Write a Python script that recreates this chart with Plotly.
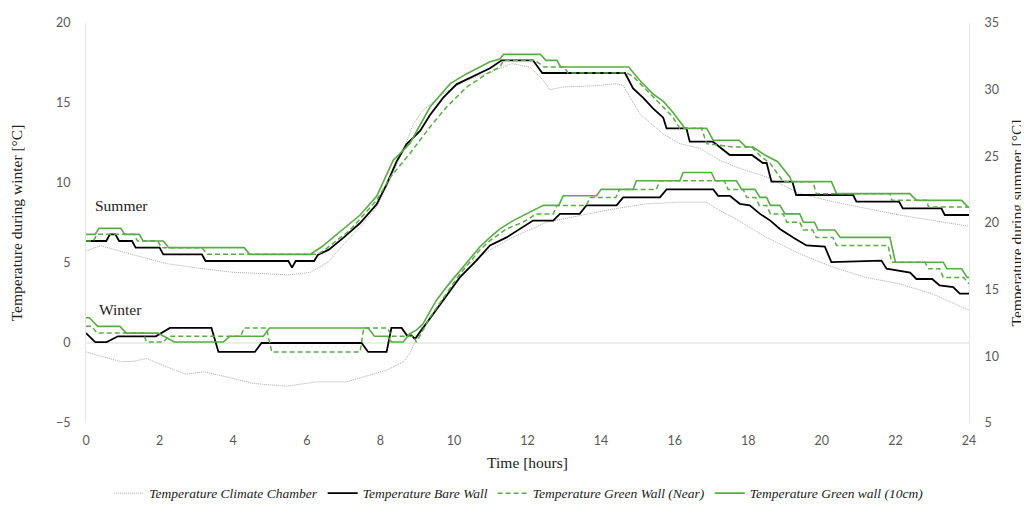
import plotly.graph_objects as go

# ---------------- data (hours, °C) ----------------
# Summer (right axis)
sc_t = [0, 0.4, 1.3, 2.2, 3.1, 4.0, 4.9, 5.5, 6.1, 6.6, 7.0, 7.45, 7.9, 8.26, 8.62, 8.9, 9.16, 9.71, 10.34,
        10.98, 11.57, 12.07, 12.43, 12.6, 12.97, 13.87, 14.42, 14.6, 15.05, 15.68, 16.14, 16.68, 17.23, 17.77,
        18.5, 19.4, 20.3, 21.2, 22.1, 23.0, 24.0]
sc_v = [17.9, 18.3, 17.6, 16.95, 16.6, 16.3, 16.2, 16.1, 16.3, 17.1, 18.4, 19.7, 21.2, 23.2, 25.45, 27.45, 28.45,
        29.7, 30.7, 31.3, 31.95, 31.7, 30.7, 30.0, 30.2, 30.3, 30.45, 30.3, 28.2, 26.7, 25.95, 25.6, 24.7, 24.1,
        23.45, 22.2, 21.6, 21.1, 20.6, 20.2, 19.75]

sb_t = [0, 0.55, 0.65, 0.8, 0.9, 1.25, 1.35, 2.0, 2.1, 3.15, 3.25, 5.5, 5.6, 5.7, 6.2, 6.3, 6.6, 7.0, 7.45, 7.9,
        8.17, 8.44, 8.71, 9.08, 9.35, 9.71, 10.07, 10.62, 10.98, 11.3, 12.15, 12.4, 14.65, 14.87, 15.14, 15.41,
        15.69, 15.78, 16.32, 16.41, 17.04, 17.5, 18.1, 18.4, 18.5, 18.63, 19.2, 19.3, 20.85, 20.94, 22.1, 22.2,
        23.25, 23.34, 24]
sb_v = [18.65, 18.65, 19.15, 19.15, 18.65, 18.65, 18.15, 18.15, 17.65, 17.65, 17.15, 17.15, 16.65, 17.15, 17.15,
        17.6, 18.0, 18.9, 20.0, 21.4, 22.9, 24.6, 25.9, 26.9, 28.1, 29.4, 30.4, 31.1, 31.6, 32.2, 32.2, 31.25,
        31.25, 30.1, 29.4, 28.6, 27.9, 27.1, 27.1, 26.1, 26.1, 25.1, 25.1, 24.5, 24.5, 23.1, 23.1, 22.1, 22.1,
        21.6, 21.6, 21.1, 21.1, 20.6, 20.6]

sn_t = [0, 0.2, 0.3, 1.3, 1.4, 1.95, 2.05, 3.15, 3.3, 6.3, 6.54, 7.17, 7.9, 8.26, 8.8, 9.35, 9.8, 10.35, 10.9,
        11.25, 11.35, 12.2, 12.45, 13.0, 13.1, 14.7, 14.87, 15.24, 15.6, 15.95, 16.14, 16.73, 16.87, 17.58,
        18.1, 18.3, 18.6, 18.95, 19.76, 19.85, 21.85, 21.9, 22.85, 22.9, 24]
sn_v = [18.65, 18.65, 19.15, 19.15, 18.65, 18.65, 18.15, 18.15, 17.65, 17.65, 18.1, 19.45, 21.7, 23.4, 25.2,
        27.2, 28.7, 30.2, 31.2, 31.7, 32.2, 32.2, 31.7, 31.7, 31.25, 31.25, 31.0, 29.95, 28.95, 27.95, 27.1,
        27.1, 25.95, 25.7, 25.7, 25.1, 24.45, 23.1, 23.1, 22.2, 22.2, 21.7, 21.7, 21.2, 21.2]

sg_t = [0, 0.25, 0.35, 0.95, 1.05, 1.45, 1.55, 2.1, 2.25, 4.3, 4.45, 6.09, 6.4, 6.8, 7.45, 7.9, 8.35, 8.8, 9.35,
        9.9, 10.35, 10.98, 11.25, 11.35, 12.35, 12.5, 12.8, 12.9, 14.75, 15.05, 15.4, 15.7, 15.95, 16.28, 16.87,
        17.05, 17.75, 17.94, 18.13, 18.45, 18.8, 19.13, 19.18, 20.26, 20.4, 22.39, 22.57, 23.8, 23.97, 24]
sg_v = [19.15, 19.15, 19.6, 19.6, 19.15, 19.15, 18.65, 18.65, 18.15, 18.15, 17.65, 17.65, 18.2, 19.1, 20.6, 22.0,
        24.7, 25.95, 28.7, 30.45, 31.2, 32.1, 32.3, 32.65, 32.65, 32.2, 32.2, 31.7, 31.7, 30.7, 29.7, 29.1, 28.3,
        27.1, 27.1, 26.2, 26.2, 25.7, 25.7, 25.1, 24.6, 23.45, 23.1, 23.1, 22.2, 22.2, 21.7, 21.7, 21.2, 21.2]

# Winter (left axis)
wc_t = [0, 0.97, 1.29, 1.65, 2.2, 2.72, 3.19, 3.83, 4.55, 5.45, 6.27, 7.08, 7.54, 8.17, 8.62, 8.8, 8.94, 9.12,
        9.5, 10.0, 10.5, 10.9, 11.5, 12.52, 13.42, 14.33, 15.24, 16.14, 16.87, 17.23, 17.59, 18.5, 19.4, 20.3,
        21.2, 22.1, 23.0, 24.0]
wc_v = [-0.56, -1.18, -1.14, -0.97, -1.5, -1.95, -1.8, -2.12, -2.53, -2.7, -2.43, -2.43, -2.12, -1.7, -1.18,
        -0.66, 0.06, 1.0, 2.6, 4.2, 5.1, 5.7, 6.5, 7.55, 7.96, 8.38, 8.7, 8.8, 8.8, 8.27, 7.85, 6.6, 5.57, 4.74,
        4.1, 3.7, 3.08, 2.04]

wb_t = [0, 0.25, 0.56, 0.87, 1.9, 2.28, 3.41, 3.6, 4.59, 4.77, 7.49, 7.67, 8.17, 8.3, 8.58, 8.72, 8.85, 8.93,
        8.98, 10.16, 10.61, 10.98, 11.43, 11.79, 12.15, 12.7, 12.88, 13.42, 13.6, 14.42, 14.6, 15.6, 15.78,
        17.05, 17.18, 17.5, 17.77, 18.04, 18.32, 18.6, 18.86, 19.22, 19.58, 20.08, 20.26, 21.62, 21.76, 22.4,
        22.57, 23.0, 23.2, 23.57, 23.75, 24]
wb_v = [0.62, 0.06, 0.06, 0.42, 0.42, 0.94, 0.94, -0.56, -0.56, 0.0, 0.0, -0.56, -0.56, 0.94, 0.94, 0.48, 0.48,
        0.27, 0.37, 4.1, 5.15, 6.1, 6.6, 7.1, 7.65, 7.65, 8.07, 8.07, 8.6, 8.6, 9.1, 9.1, 9.6, 9.6, 9.2, 9.2, 8.7,
        8.6, 8.07, 7.65, 7.13, 6.6, 6.1, 6.03, 5.05, 5.15, 4.64, 4.4, 4.0, 4.0, 3.6, 3.5, 3.08, 3.08]

wn_t = [0, 0.15, 0.3, 1.55, 1.65, 2.1, 2.25, 4.2, 4.3, 4.9, 5.05, 7.45, 7.55, 8.2, 8.3, 8.9, 8.98, 9.35, 9.8,
        10.16, 10.7, 10.98, 11.43, 11.88, 12.24, 12.7, 12.8, 13.6, 13.7, 14.4, 14.5, 15.5, 15.6, 17.35, 17.45,
        17.86, 17.96, 18.2, 18.3, 18.5, 18.6, 18.95, 19.05, 19.4, 19.5, 19.75, 19.85, 20.3, 20.4, 21.8, 21.9,
        22.8, 22.9, 23.2, 23.3, 23.85, 24]
wn_v = [1.05, 1.05, 0.62, 0.62, 0.06, 0.06, 0.42, 0.42, 0.94, 0.94, -0.56, -0.56, 0.94, 0.94, 0.42, 0.42, 0.06,
        1.6, 3.1, 4.3, 5.8, 6.4, 7.13, 7.55, 8.07, 8.07, 8.6, 8.6, 9.1, 9.1, 9.6, 9.6, 10.14, 10.14, 9.6, 9.6,
        9.1, 9.1, 8.6, 8.6, 8.07, 8.07, 7.55, 7.55, 7.06, 7.06, 6.6, 6.6, 6.1, 6.1, 5.05, 5.05, 4.64, 4.64, 4.1,
        4.1, 3.7]

wg_t = [0, 0.09, 0.32, 0.92, 1.1, 1.96, 2.4, 3.73, 3.91, 4.82, 4.99, 7.67, 7.84, 8.2, 8.3, 8.62, 8.8, 8.98, 9.16,
        9.52, 9.8, 10.25, 10.7, 10.98, 11.25, 11.61, 11.98, 12.43, 12.85, 12.97, 13.88, 14.0, 14.87, 14.96,
        16.14, 16.23, 17.0, 17.1, 17.68, 17.82, 18.18, 18.32, 18.5, 18.6, 18.86, 19.0, 19.4, 19.5, 19.8, 19.9,
        20.35, 20.5, 21.85, 22.0, 23.3, 23.4, 23.8, 23.95, 24]
wg_v = [1.58, 1.58, 1.04, 1.04, 0.62, 0.62, 0.06, 0.06, 0.42, 0.42, 0.94, 0.94, 0.42, 0.42, 0.06, 0.06, 0.58,
        0.8, 1.2, 2.66, 3.5, 4.74, 6.0, 6.6, 7.13, 7.65, 8.07, 8.6, 8.6, 9.2, 9.2, 9.6, 9.6, 10.14, 10.14, 10.66,
        10.66, 10.14, 10.14, 9.6, 9.6, 9.1, 9.1, 8.6, 8.6, 8.07, 8.07, 7.55, 7.55, 7.06, 7.06, 6.6, 6.6, 5.05,
        5.05, 4.64, 4.64, 4.1, 4.1]

names = ["Temperature Climate Chamber", "Temperature Bare Wall",
         "Temperature Green Wall (Near)", "Temperature Green wall (10cm)"]
x_ticks = list(range(0, 25, 2))

GREEN = "#5aab46"
styles = [dict(color="#a9a9a9", width=1, dash="1px,1px"),
          dict(color="#000000", width=1.8),
          dict(color=GREEN, width=1.5, dash="5px,3px"),
          dict(color=GREEN, width=1.6)]

fig = go.Figure()
summer = [(sc_t, sc_v), (sb_t, sb_v), (sn_t, sn_v), (sg_t, sg_v)]
winter = [(wc_t, wc_v), (wb_t, wb_v), (wn_t, wn_v), (wg_t, wg_v)]
for i, (t, v) in enumerate(winter):
    fig.add_trace(go.Scatter(x=t, y=v, mode="lines", line=styles[i], name=names[i],
                             legendgroup=names[i], showlegend=False, yaxis="y"))
for i, (t, v) in enumerate(summer):
    fig.add_trace(go.Scatter(x=t, y=v, mode="lines", line=styles[i], name=names[i],
                             legendgroup=names[i], showlegend=True, yaxis="y2"))

SERIF = "Liberation Serif"
SANS = "Lato"
TITLE_FONT = dict(family=SERIF, size=15.5, color="#222")
TICK_FONT = dict(family=SANS, size=12.5, color="#595959")
fig.update_layout(
    width=1021, height=502,
    margin=dict(l=78, r=60, t=15, b=87, autoexpand=False),
    paper_bgcolor="white", plot_bgcolor="white",
    xaxis=dict(range=[0, 24], tickvals=x_ticks, showgrid=False, zeroline=False, showline=False,
               ticks="", ticklabelstandoff=8, automargin=False, tickfont=TICK_FONT,
               title=dict(text="Time [hours]", font=TITLE_FONT, standoff=10)),
    yaxis=dict(range=[-5, 20], dtick=5, showgrid=False, zeroline=True, zerolinecolor="#ececec",
               zerolinewidth=1.5, showline=True, linecolor="#e6e6e6", linewidth=1, ticks="",
               ticklabelstandoff=12, automargin=False, tickfont=TICK_FONT,
               title=dict(text="Temperature during winter [°C]", font=TITLE_FONT, standoff=30)),
    yaxis2=dict(range=[5, 35], dtick=5, overlaying="y", side="right", showgrid=False, zeroline=False,
                showline=True, linecolor="#e6e6e6", linewidth=1, ticks="", ticklabelstandoff=12,
                automargin=False, tickfont=TICK_FONT,
                title=dict(text="Temperature during summer [°C]", font=TITLE_FONT, standoff=13)),
    legend=dict(orientation="h", x=0.49, xanchor="center", y=-0.176, yanchor="middle",
                font=dict(family=SERIF, size=13.5, color="#222", style="italic"),
                itemwidth=30, tracegroupgap=0),
    showlegend=True,
)
fig.add_annotation(x=0.19, y=8.6, xref="x", yref="y", text="Summer", showarrow=False, xanchor="left",
                   font=dict(family=SERIF, size=15.5, color="#222"))
fig.add_annotation(x=0.3, y=2.1, xref="x", yref="y", text="Winter", showarrow=False, xanchor="left",
                   font=dict(family=SERIF, size=15.5, color="#222"))

fig.write_html("out.html")
